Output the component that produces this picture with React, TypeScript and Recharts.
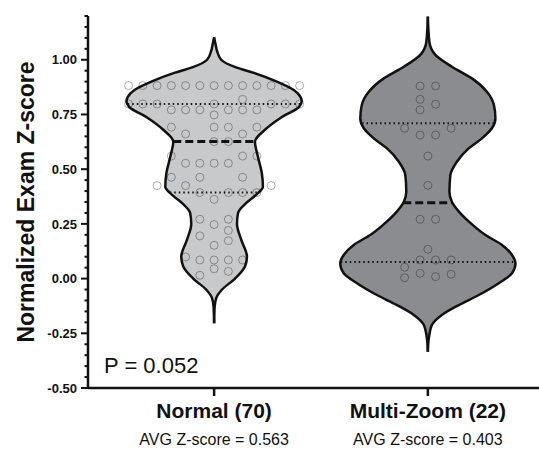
import { Area, ComposedChart, ReferenceLine, Scatter, XAxis, YAxis } from 'recharts';

const categories = ['Normal (70)', 'Multi-Zoom (22)'];
const avgLabels = ['AVG Z-score = 0.563', 'AVG Z-score = 0.403'];
const pValueLabel = 'P = 0.052';
const yLabel = 'Normalized Exam Z-score';
const yMajorTicks = [-0.5, -0.25, 0, 0.25, 0.5, 0.75, 1.0];
const yMinorStep = 0.05;

// violin outlines: z-score and relative density (1 = widest point)
const normalProfileY = [1.103, 1.07, 1.04, 1.0, 0.965, 0.94, 0.9, 0.862, 0.83, 0.81, 0.785, 0.735, 0.68, 0.626, 0.557, 0.48, 0.42, 0.39, 0.345, 0.3, 0.25, 0.18, 0.1, 0.055, 0.0, -0.05, -0.09, -0.13, -0.204];
const normalDensity = [0, 0.017, 0.034, 0.08, 0.25, 0.455, 0.716, 0.909, 0.985, 1.0, 0.97, 0.761, 0.58, 0.466, 0.5, 0.545, 0.557, 0.5, 0.364, 0.273, 0.261, 0.307, 0.375, 0.352, 0.239, 0.091, 0.023, 0.006, 0];
const multiProfileY = [1.197, 1.083, 1.022, 0.968, 0.915, 0.854, 0.793, 0.733, 0.687, 0.641, 0.596, 0.534, 0.473, 0.397, 0.351, 0.306, 0.26, 0.199, 0.154, 0.108, 0.07, 0.024, -0.021, -0.075, -0.121, -0.166, -0.212, -0.273, -0.334];
const multiDensity = [0, 0.017, 0.086, 0.274, 0.503, 0.674, 0.754, 0.771, 0.731, 0.617, 0.469, 0.331, 0.257, 0.246, 0.274, 0.354, 0.469, 0.657, 0.846, 0.96, 1.0, 0.96, 0.809, 0.581, 0.352, 0.16, 0.046, 0.011, 0];

// quartiles: Q1, median, Q3
const normalQuartiles = [0.393, 0.626, 0.798];
const multiQuartiles = [0.076, 0.347, 0.71];

// individual scores: [z-score, beeswarm slot]
const normalPoints: [number, number][] = [
  [0.882, -6], [0.882, -5], [0.882, -4], [0.882, -3], [0.882, -2], [0.882, -1], [0.882, 0],
  [0.882, 1], [0.882, 2], [0.882, 3], [0.882, 4], [0.882, 5], [0.882, 6],
  [0.819, 2],
  [0.798, -6], [0.798, -5], [0.798, -4], [0.798, 0], [0.798, 4], [0.798, 5], [0.798, 6],
  [0.771, -3], [0.771, -2], [0.771, -1], [0.771, 1], [0.771, 2], [0.771, 3],
  [0.748, 0],
  [0.692, -3], [0.692, 0], [0.692, 1], [0.692, 3],
  [0.661, -2], [0.661, 2],
  [0.626, 0], [0.626, 1],
  [0.56, -3], [0.56, 2], [0.56, 3],
  [0.527, -2], [0.527, -1], [0.527, 0], [0.527, 1],
  [0.463, -3], [0.463, -1], [0.463, 2],
  [0.425, -4], [0.425, -2], [0.425, 4],
  [0.393, -1], [0.393, 1], [0.393, 2], [0.393, 3],
  [0.362, 0],
  [0.271, -1], [0.271, 1],
  [0.247, 0], [0.22, 1], [0.195, -1], [0.173, 1], [0.152, 0], [0.099, -2],
  [0.085, -1], [0.085, 0], [0.085, 1], [0.085, 2],
  [0.045, 0], [0.033, 1], [0.015, -1],
];
const multiPoints: [number, number][] = [
  [0.88, -0.5], [0.88, 0.5], [0.819, -0.5], [0.797, 0.5], [0.771, -0.5],
  [0.687, -1.5], [0.687, 1.5], [0.656, -0.5], [0.656, 0.5],
  [0.56, 0], [0.426, 0], [0.271, -0.5], [0.271, 0.5], [0.134, 0],
  [0.085, -0.5], [0.085, 0.5], [0.085, 1.5], [0.052, -1.5],
  [0.004, -1.5], [0.024, -0.5], [0.009, 0.5], [0.02, 1.5],
];

const FONT = '"Liberation Sans", Arial, Helvetica, sans-serif';
const INK = '#111';
const MAX_HALF_WIDTH = 0.41;
const NORMAL_SLOT = 0.0667;
const MULTI_SLOT = 0.0725;

function violinRows(center: number, ys: number[], dens: number[]) {
  return ys.map((y, i) => ({
    y,
    band: [center - dens[i] * MAX_HALF_WIDTH, center + dens[i] * MAX_HALF_WIDTH],
  }));
}

function halfWidthAt(ys: number[], dens: number[], v: number) {
  for (let i = 0; i < ys.length - 1; i++) {
    const a = ys[i];
    const b = ys[i + 1];
    if (v <= a && v >= b) {
      const t = (v - a) / (b - a);
      return (dens[i] + t * (dens[i + 1] - dens[i])) * MAX_HALF_WIDTH;
    }
  }
  return 0;
}

function segment(center: number, ys: number[], dens: number[], q: number) {
  const hw = halfWidthAt(ys, dens, q);
  return [{ x: center - hw, y: q }, { x: center + hw, y: q }];
}

const normalRows = violinRows(1, normalProfileY, normalDensity);
const multiRows = violinRows(2, multiProfileY, multiDensity);
const normalScatter = normalPoints.map(([z, s]) => ({ x: 1 + s * NORMAL_SLOT, y: z }));
const multiScatter = multiPoints.map(([z, s]) => ({ x: 2 + s * MULTI_SLOT, y: z }));

const yTicks: number[] = [];
for (let i = 0; i <= 34; i++) yTicks.push(Math.round((-0.5 + i * yMinorStep) * 100) / 100);

function YTick({ x, y, payload }: any) {
  const v = payload.value;
  const major = yMajorTicks.some((m) => Math.abs(m - v) < 1e-6);
  const axisX = x + 11;
  return (
    <g>
      <line x1={major ? axisX - 7 : axisX - 3.5} x2={axisX} y1={y} y2={y} stroke={INK} strokeWidth={2} />
      {major && (
        <text x={x} y={y} dy="0.36em" textAnchor="end" fontSize={13} fontWeight="bold" fontFamily={FONT} fill={INK}>
          {v.toFixed(2)}
        </text>
      )}
    </g>
  );
}

function XTick({ x, y, payload }: any) {
  const i = Math.round(payload.value) - 1;
  return (
    <g fontFamily={FONT} fill={INK}>
      <text x={x} y={y + 20} textAnchor="middle" fontSize={21} fontWeight="bold">
        {categories[i]}
      </text>
      <text x={x} y={y + 47} textAnchor="middle" fontSize={16}>
        {avgLabels[i]}
      </text>
    </g>
  );
}

const ring = (p: any) => (
  <circle cx={p.cx} cy={p.cy} r={4} fill="none" stroke="rgba(0,0,0,0.32)" strokeWidth={1} />
);

export default function App() {
  return (
    <div style={{ position: 'absolute', left: 0, top: 0, width: 539, height: 449, background: '#fff' }}>
      <ComposedChart
        width={539}
        height={449}
        layout="vertical"
        margin={{ top: 16, right: 0, bottom: 0, left: 0 }}
      >
        <XAxis
          type="number"
          dataKey="x"
          domain={[0.41, 2.52]}
          allowDataOverflow
          ticks={[1, 2]}
          tick={<XTick />}
          tickSize={8}
          tickMargin={2}
          height={61}
          axisLine={{ stroke: INK, strokeWidth: 2.5 }}
          tickLine={{ stroke: INK, strokeWidth: 2.5 }}
        />
        <YAxis
          type="number"
          dataKey="y"
          domain={[-0.5, 1.2]}
          reversed
          allowDataOverflow
          ticks={yTicks}
          interval={0}
          tick={<YTick />}
          tickSize={7}
          tickMargin={4}
          width={88}
          axisLine={{ stroke: INK, strokeWidth: 2.5 }}
          tickLine={false}
        />
        <Area
          data={normalRows}
          dataKey="band"
          type="monotone"
          fill="#c8c9cb"
          fillOpacity={1}
          stroke={INK}
          strokeWidth={2.5}
          isAnimationActive={false}
        />
        <Area
          data={multiRows}
          dataKey="band"
          type="monotone"
          fill="#8a8c8f"
          fillOpacity={1}
          stroke={INK}
          strokeWidth={2.5}
          isAnimationActive={false}
        />
        {[normalQuartiles[0], normalQuartiles[2]].map((q) => (
          <ReferenceLine key={'n' + q} segment={segment(1, normalProfileY, normalDensity, q)} stroke={INK} strokeWidth={2} strokeDasharray="1.5 3" ifOverflow="visible" />
        ))}
        <ReferenceLine segment={segment(1, normalProfileY, normalDensity, normalQuartiles[1])} stroke={INK} strokeWidth={3} strokeDasharray="8 4" ifOverflow="visible" />
        {[multiQuartiles[0], multiQuartiles[2]].map((q) => (
          <ReferenceLine key={'m' + q} segment={segment(2, multiProfileY, multiDensity, q)} stroke={INK} strokeWidth={2} strokeDasharray="1.5 3" ifOverflow="visible" />
        ))}
        <ReferenceLine segment={segment(2, multiProfileY, multiDensity, multiQuartiles[1])} stroke={INK} strokeWidth={3} strokeDasharray="8 4" ifOverflow="visible" />
        <Scatter data={normalScatter} shape={ring} isAnimationActive={false} />
        <Scatter data={multiScatter} shape={ring} isAnimationActive={false} />
      </ComposedChart>
      <div
        style={{
          position: 'absolute',
          left: 26,
          top: 202,
          transform: 'translate(-50%, -50%) rotate(-90deg)',
          whiteSpace: 'nowrap',
          fontFamily: FONT,
          fontWeight: 'bold',
          fontSize: 23,
          lineHeight: '23px',
          color: INK,
        }}
      >
        {yLabel}
      </div>
      <div
        style={{
          position: 'absolute',
          left: 104,
          top: 355,
          fontFamily: FONT,
          fontSize: 22,
          lineHeight: '22px',
          color: INK,
          whiteSpace: 'nowrap',
        }}
      >
        {pValueLabel}
      </div>
    </div>
  );
}
